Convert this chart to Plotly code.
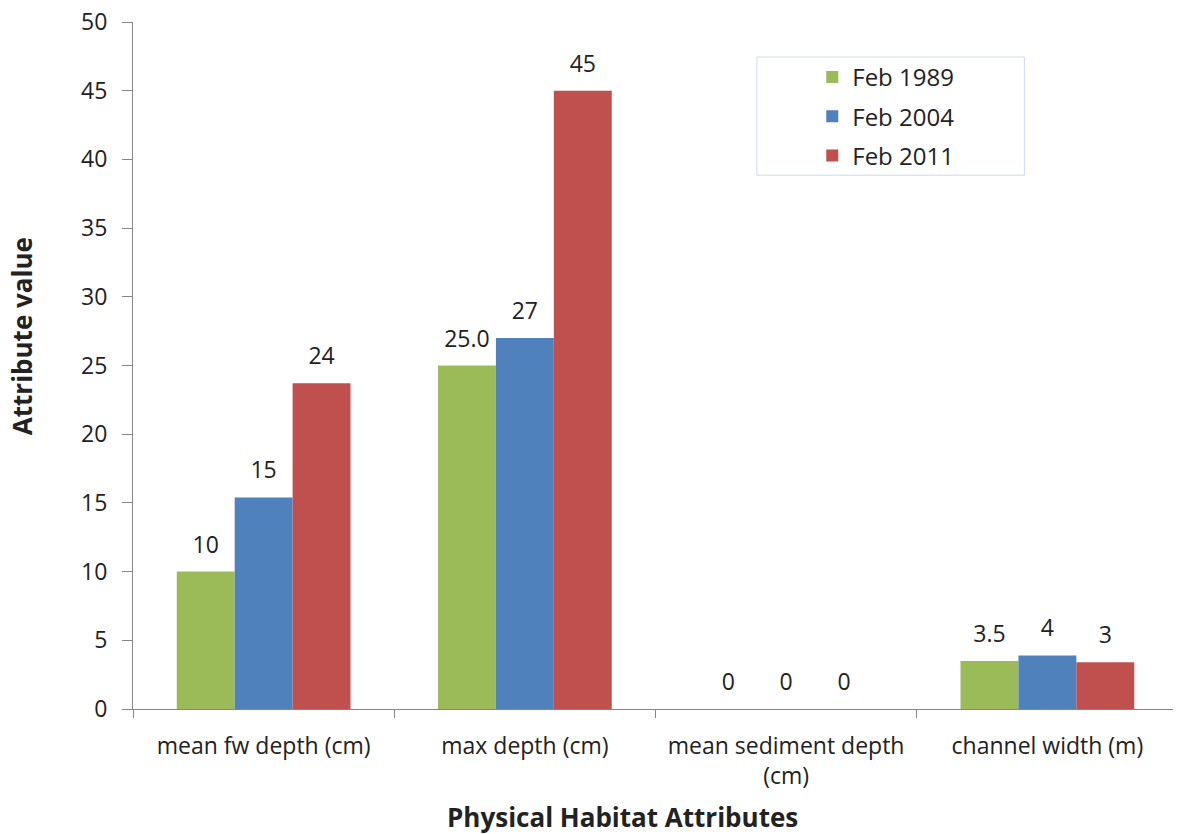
import plotly.graph_objects as go

# ── data ───────────────────────────────────────────────────────────────────
categories = ["mean fw depth (cm)", "max depth (cm)",
              "mean sediment depth<br>(cm)", "channel width (m)"]
feb_1989 = [10.0, 25.0, 0.0, 3.5]
feb_2004 = [15.4, 27.0, 0.0, 3.9]
feb_2011 = [23.7, 45.0, 0.0, 3.4]
labels_1989 = ["10", "25.0", "0", "3.5"]
labels_2004 = ["15", "27", "0", "4"]
labels_2011 = ["24", "45", "0", "3"]
y_ticks = list(range(0, 55, 5))

FONT = "Open Sans"
TXT = "#222222"
AX = "#868686"
FS = 23

series = [
    ("Feb 1989", feb_1989, labels_1989, "#9BBB59"),
    ("Feb 2004", feb_2004, labels_2004, "#4F81BD"),
    ("Feb 2011", feb_2011, labels_2011, "#C0504D"),
]

fig = go.Figure()
for i, (name, vals, labs, col) in enumerate(series):
    # small base font + blank 2nd line lifts each label off the bar top, like Excel
    fig.add_trace(go.Bar(
        x=categories, y=vals, name=name, marker_color=col,
        marker_line_width=0, legendgroup=f"g{i}",
        text=[f"<span style='font-size:{FS}px'>{t}</span><br> " for t in labs],
        textposition="outside", cliponaxis=False,
        textfont=dict(family=FONT, size=10, color=TXT),
    ))

fig.update_xaxes(showline=True, linecolor=AX, linewidth=1, automargin=False,
                 ticks="outside", tickson="boundaries", ticklen=8, tickcolor=AX,
                 ticklabelstandoff=16,
                 tickfont=dict(family=FONT, size=FS, color=TXT))
fig.update_yaxes(range=[0, 50], tickvals=y_ticks, showgrid=False, zeroline=False,
                 showline=True, linecolor=AX, linewidth=1, automargin=False,
                 ticks="outside", ticklen=10, tickcolor=AX,
                 ticklabelstandoff=10, ticklabeloverflow="allow",
                 tickfont=dict(family=FONT, size=FS, color=TXT))

# axis titles sit off-centre in the reference, so they are annotations
fig.add_annotation(text="<b>Physical Habitat Attributes</b>", xref="paper", yref="paper",
                   x=0.468, y=-0.157, xanchor="center", yanchor="middle",
                   showarrow=False, font=dict(family=FONT, size=26, color=TXT))
fig.add_annotation(text="<b>Attribute value</b>", xref="paper", yref="paper",
                   x=-0.106, y=0.543, xanchor="center", yanchor="middle", textangle=-90,
                   showarrow=False, font=dict(family=FONT, size=26, color=TXT))

# legend frame, drawn as a box like the reference
fig.add_shape(type="rect", xref="paper", yref="paper",
              x0=0.597, x1=0.853, y0=0.777, y1=0.949,
              line=dict(color="#5B8BC8", width=1), fillcolor="rgba(0,0,0,0)")

# page body adds an 8px offset, so the figure is 8px smaller and margins shifted
fig.update_layout(
    width=1173, height=826, template="simple_white",
    barmode="group", bargap=0.335, bargroupgap=0,
    plot_bgcolor="white", paper_bgcolor="white",
    margin=dict(t=14, b=125, l=125, r=3),
    legend=dict(x=0.65, y=0.952, xanchor="left", yanchor="top",
                font=dict(family=FONT, size=24, color=TXT),
                tracegroupgap=5, bgcolor="rgba(0,0,0,0)", borderwidth=0),
    showlegend=True,
)

fig.write_html("out.html")
